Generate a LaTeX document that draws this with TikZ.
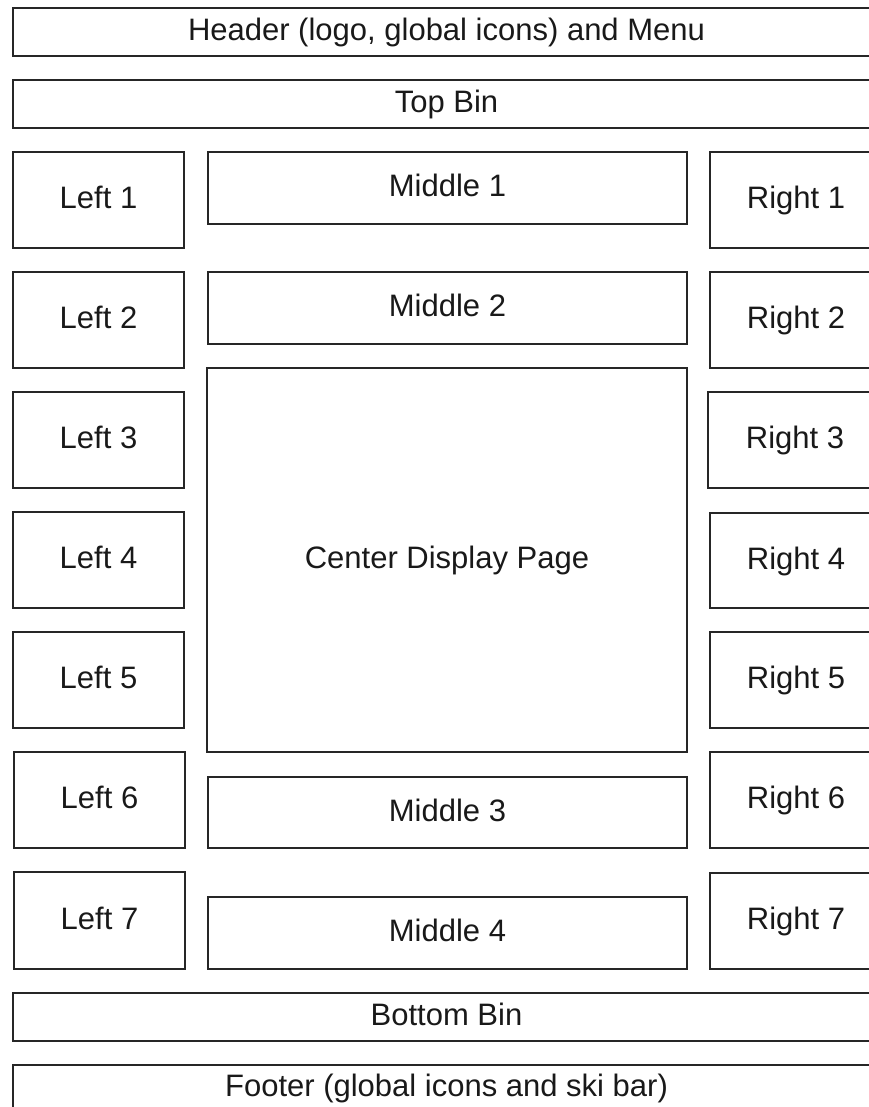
\documentclass[tikz,border=0pt]{standalone}
\usepackage{fontspec}
\setmainfont{Liberation Sans}
\begin{document}
\begin{tikzpicture}[x=1pt,y=-1pt,
  box/.style={draw=black!85, line width=1.6pt, inner sep=0pt, text=black!90,
    font=\fontsize{31}{36}\selectfont, text height=22pt, text depth=5pt}]
\useasboundingbox (0,0) rectangle (869,1107);
\clip (0,0) rectangle (869,1107);
\newcommand\bx[6][]{\node[box,#1,minimum width=#4pt,minimum height=#5pt] (#6) at ({#2+#4/2},{#3+#5/2})}
% top rows
\bx{13}{8}{867}{48}{header} {Header (logo, global icons) and Menu};
\bx{13}{80}{867}{48}{topbin} {Top Bin};
% left column
\bx{13}{152}{171}{96}{left1} {Left 1};
\bx{13}{272}{171}{96}{left2} {Left 2};
\bx{13}{392}{171}{96}{left3} {Left 3};
\bx{13}{512}{171}{96}{left4} {Left 4};
\bx{13}{632}{171}{96}{left5} {Left 5};
\bx{14}{752}{171}{96}{left6} {Left 6};
\bx{14}{872}{171}{97}{left7} {Left 7};
% middle column
\bx{208}{152}{479}{72}{mid1} {Middle 1};
\bx{208}{272}{479}{72}{mid2} {Middle 2};
\bx{207}{368}{480}{384}{center} {Center Display Page};
\bx{208}{777}{479}{71}{mid3} {Middle 3};
\bx{208}{897}{479}{72}{mid4} {Middle 4};
% right column
\bx{710}{152}{172}{96}{right1} {Right 1};
\bx{710}{272}{172}{96}{right2} {Right 2};
\bx{708}{392}{174}{96}{right3} {Right 3};
\bx{710}{513}{172}{95}{right4} {Right 4};
\bx{710}{632}{172}{96}{right5} {Right 5};
\bx{710}{752}{172}{96}{right6} {Right 6};
\bx{710}{873}{172}{96}{right7} {Right 7};
% bottom rows
\bx{13}{993}{867}{48}{bottombin} {Bottom Bin};
\bx[text depth=8pt]{13}{1065}{867}{48}{footer} {Footer (global icons and ski bar)};
\end{tikzpicture}
\end{document}
